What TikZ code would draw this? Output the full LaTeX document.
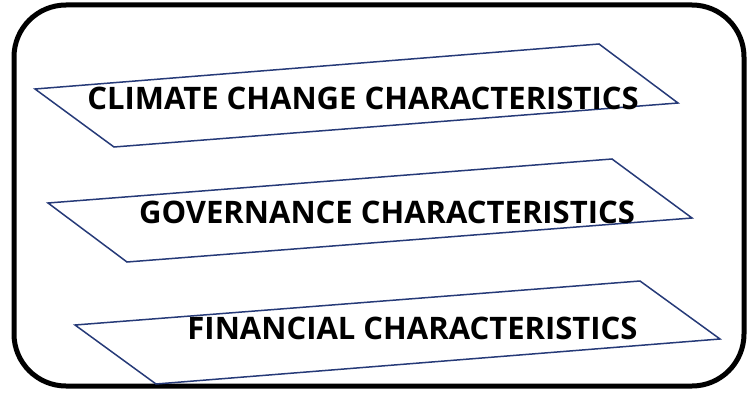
\documentclass[tikz,border=0pt]{standalone}
\usepackage{fontspec}
\setmainfont{Open Sans}
\definecolor{planeblue}{RGB}{38,58,120}

\begin{document}
\begin{tikzpicture}[x=1pt, y=-1pt,
  plane/.style={draw=planeblue, line width=1.5pt},
  chartext/.style={font=\bfseries\fontsize{31}{31}\selectfont, inner sep=0pt}]
\useasboundingbox (0,0) rectangle (747,396);

% outer frame
\draw[line width=5pt, rounded corners=52pt] (14,5) rectangle (744,386);

% the three slanted planes
\draw[plane] (35,89) -- (599,44) -- (678,103) -- (114,147) -- cycle;
\draw[plane] (48,203) -- (612,159) -- (692,218) -- (127,262) -- cycle;
\draw[plane] (75,325) -- (640,281) -- (720,339) -- (156,384) -- cycle;

\node[chartext] (climate) at (363,98) {CLIMATE CHANGE CHARACTERISTICS};
\node[chartext] (governance) at (387,212) {GOVERNANCE CHARACTERISTICS};
\node[chartext] (financial) at (412.5,328) {FINANCIAL CHARACTERISTICS};
\end{tikzpicture}
\end{document}
